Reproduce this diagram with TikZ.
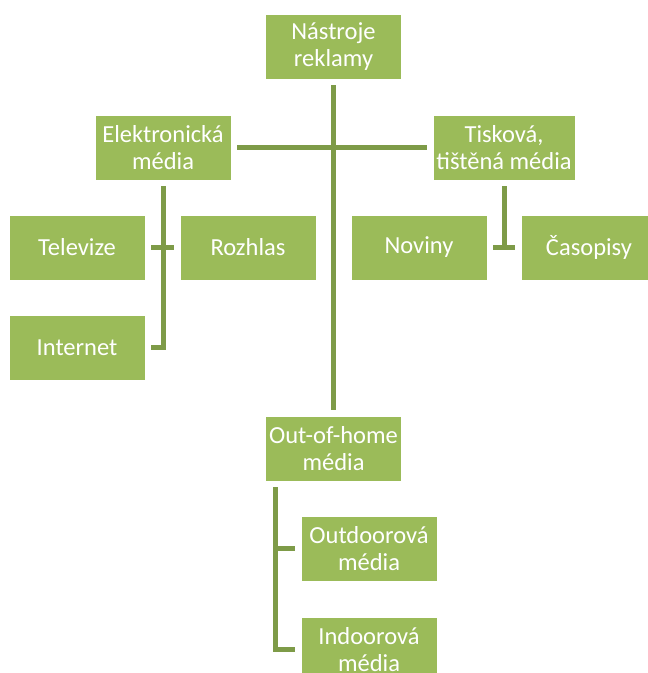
\documentclass[tikz,border=0pt]{standalone}
\usepackage{fontspec}
\setmainfont{Carlito}
\usepackage{tikz}
\usetikzlibrary{positioning}
\definecolor{boxgreen}{RGB}{155,187,89}
\definecolor{linegreen}{RGB}{126,155,72}

\begin{document}
\begin{tikzpicture}[x=1pt,y=-1pt,every node/.style={outer sep=0pt},
 box/.style={draw=white,line width=0.6pt,fill=boxgreen,text=white,
 minimum width=136pt,minimum height=65pt,align=center,
 font=\fontsize{24.5}{26.5}\selectfont},
 conn/.style={draw=linegreen,line width=5pt}]

  \useasboundingbox (0,0) rectangle (648,673);

  \node[box] (top) at (333.5,46.5) {Nástroje\\reklamy};
  \node[box] (el) at (163,147.5) {Elektronická\\média};
  \node[box] (ti) at (504,147.5) {Tisková,\\tištěná média};
  \node[box] (tv) at (77,247.5) {Televize};
  \node[box,right=35pt of tv] (rozh) {Rozhlas};
  \node[box,below=35pt of tv] (inet) {Internet};
  \node[box] (nov) at (419,247.5) {Noviny};
  \node[box,right=34pt of nov] (cas) {Časopisy};
  \node[box] (ooh) at (333.5,448.5) {Out-of-home\\média};
  \node[box] (outd) at (369,548.5) {Outdoorová\\média};
  \node[box,below=36pt of outd] (indo) {Indoorová\\média};

  % main trunk and the two media branches
  \draw[conn] ([yshift=-6]top.south) -- ([yshift=6]ooh.north);
  \draw[conn] ([xshift=6]el.east) -- ([xshift=-6]ti.west);

  % electronic media
  \draw[conn] ([yshift=-6]el.south) |- ([xshift=6]inet.east);
  \draw[conn] ([xshift=6]tv.east) -- ([xshift=-6]rozh.west);

  % print media
  \draw[conn] ([yshift=-6]ti.south) -- (ti.south |- nov);
  \draw[conn] ([xshift=6]nov.east) -- ([xshift=-6]cas.west);

  % out-of-home media
  \draw[conn] ([xshift=10,yshift=-6]ooh.south west) coordinate (aux)
   |- ([xshift=-6]indo.west);
  \draw[conn] (aux |- outd) -- ([xshift=-6]outd.west);

\end{tikzpicture}
\end{document}
